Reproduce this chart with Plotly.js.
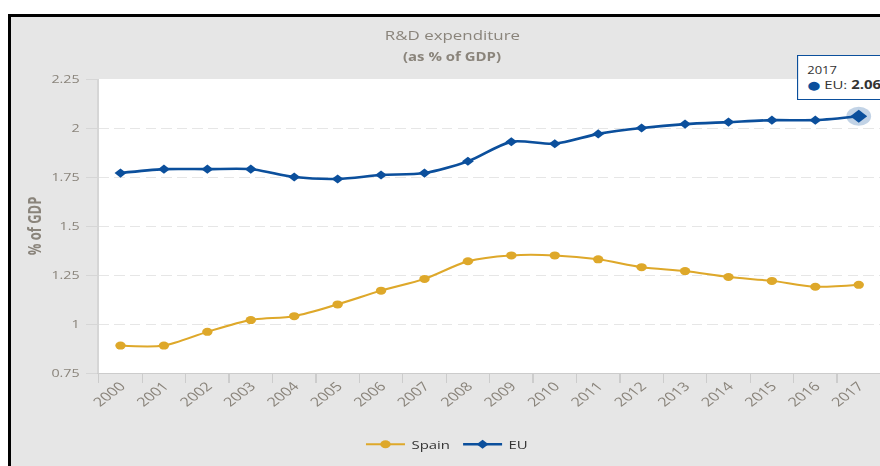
<!DOCTYPE html>
<html>
<head>
<meta charset="utf-8">
<script src="https://cdn.plot.ly/plotly-3.0.1.min.js"></script>
<style>
  html, body { margin: 0; padding: 0; background: #ffffff; width: 880px; height: 466px; overflow: hidden; }
  #frame { position: absolute; left: 8px; top: 14px; width: 872px; height: 452px; box-sizing: border-box;
           border-left: 3px solid #000; border-top: 3px solid #000; background: #e6e6e6; }
  /* the reference picture is stretched horizontally (~1.3x); reproduce with a CSS scale */
  #chart { position: absolute; left: 0; top: 0; width: 677px; height: 466px;
           transform: scaleX(1.2999); transform-origin: 0 0; }
</style>
</head>
<body>
<div id="frame"></div>
<div id="chart"></div>
<script>
const years = ["2000","2001","2002","2003","2004","2005","2006","2007","2008","2009","2010","2011","2012","2013","2014","2015","2016","2017"];
const spain = [0.89, 0.89, 0.96, 1.02, 1.04, 1.10, 1.17, 1.23, 1.32, 1.35, 1.35, 1.33, 1.29, 1.27, 1.24, 1.22, 1.19, 1.20];
const eu    = [1.77, 1.79, 1.79, 1.79, 1.75, 1.74, 1.76, 1.77, 1.83, 1.93, 1.92, 1.97, 2.00, 2.02, 2.03, 2.04, 2.04, 2.06];
const yTickVals = [0.75, 1, 1.25, 1.5, 1.75, 2, 2.25];
const yTickText = ["0.75", "1", "1.25", "1.5", "1.75", "2", "2.25"];

const spainColor = "#dea82a";
const euColor = "#0b4f9c";
const textGray = "#8a847b";
const fontFam = "'Open Sans', 'DejaVu Sans', sans-serif";

const lastIdx = years.length - 1;

const traces = [
  {
    name: "Spain", x: years, y: spain, type: "scatter", mode: "lines+markers",
    line: { color: spainColor, width: 2, shape: "spline", smoothing: 0.8 },
    marker: { color: spainColor, size: 8, symbol: "circle" },
    hoverinfo: "skip"
  },
  {
    name: "EU", x: years, y: eu, type: "scatter", mode: "lines+markers",
    line: { color: euColor, width: 2.6, shape: "spline", smoothing: 0.8 },
    marker: { color: euColor, size: 7, symbol: "diamond" },
    hoverinfo: "skip"
  },
  {
    name: "halo", x: [years[lastIdx]], y: [eu[lastIdx]], type: "scatter", mode: "markers",
    marker: { color: "rgba(11,79,156,0.25)", size: 19, symbol: "circle" },
    showlegend: false, hoverinfo: "skip"
  },
  {
    name: "hover", x: [years[lastIdx]], y: [eu[lastIdx]], type: "scatter", mode: "markers",
    marker: { color: euColor, size: 10, symbol: "diamond" },
    showlegend: false, hoverinfo: "skip"
  }
];

const layout = {
  width: 677, height: 466,
  margin: { l: 75.6, r: 0, t: 79, b: 93, pad: 0 },
  paper_bgcolor: "rgba(0,0,0,0)",
  plot_bgcolor: "#ffffff",
  font: { family: fontFam, color: textGray, size: 12 },
  title: {
    text: "R&D expenditure",
    font: { family: fontFam, size: 13, color: textGray },
    xref: "paper", x: 0.4527, xanchor: "center",
    yref: "container", y: 1 - 35 / 466, yanchor: "middle"
  },
  annotations: [
    {
      text: "<b>(as % of GDP)</b>", xref: "paper", yref: "paper",
      x: 0.4527, y: (372 - 57) / 293, xanchor: "center", yanchor: "middle",
      showarrow: false, font: { family: fontFam, size: 11.5, color: textGray }
    },
    {
      text: "<span style='font-size:10px'>" + years[lastIdx] + "</span><br><span style='color:" + euColor + "'>●</span> EU: <b>" + eu[lastIdx].toFixed(2) + "</b>",
      x: lastIdx, y: eu[lastIdx], xref: "x", yref: "y",
      xanchor: "left", yanchor: "bottom", xshift: -48, yshift: 16,
      showarrow: false, align: "left",
      bgcolor: "#ffffff", bordercolor: euColor, borderwidth: 1, borderpad: 7,
      font: { family: fontFam, size: 11.5, color: "#333333" }
    },
    {
      text: " ", x: lastIdx, y: eu[lastIdx], xref: "x", yref: "y",
      showarrow: true, arrowhead: 0, arrowwidth: 1.2, arrowcolor: euColor,
      ax: 0, ay: -17, standoff: 8
    }
  ],
  xaxis: {
    type: "category", range: [-0.5, 17.49], tickson: "boundaries",
    tickangle: -45, ticks: "outside", ticklen: 9, tickcolor: "#cccccc",
    showline: true, linecolor: "#cccccc", linewidth: 1,
    showgrid: false, zeroline: false, fixedrange: true,
    tickfont: { family: fontFam, size: 12.5, color: textGray }
  },
  yaxis: {
    range: [0.75, 2.25], tickvals: yTickVals, ticktext: yTickText,
    ticks: "outside", ticklen: 8.5, tickcolor: "#d6d6d6",
    showline: true, linecolor: "#d6d6d6", linewidth: 1,
    showgrid: true, gridcolor: "#e6e6e6", griddash: "8px,4px", gridwidth: 1,
    zeroline: false, fixedrange: true, ticklabelstandoff: 3,
    tickfont: { family: fontFam, size: 11, color: textGray },
    title: { text: "<b>% of GDP</b>", font: { family: fontFam, size: 13, color: textGray }, standoff: 4 }
  },
  legend: {
    orientation: "h", x: 0.446, xanchor: "center", y: (372 - 443) / 293, yanchor: "middle",
    font: { family: fontFam, size: 11.5, color: "#333333" }, bgcolor: "rgba(0,0,0,0)",
    itemwidth: 30, traceorder: "normal"
  },
  showlegend: true,
  hovermode: false
};

Plotly.newPlot("chart", traces, layout, { displayModeBar: false, staticPlot: true });
</script>
</body>
</html>
